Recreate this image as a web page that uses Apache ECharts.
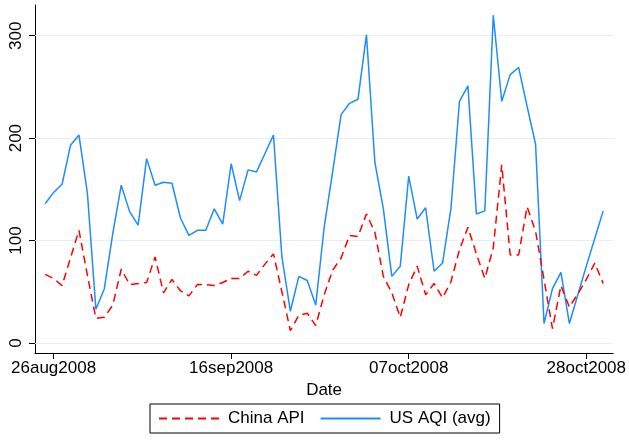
<!DOCTYPE html>
<html>
<head>
<meta charset="utf-8">
<script src="https://cdn.jsdelivr.net/npm/echarts@6/dist/echarts.min.js"></script>
<style>
  html, body { margin: 0; padding: 0; background: #ffffff; }
  #chart { width: 629px; height: 440px; }
</style>
</head>
<body>
<div id="chart"></div>
<script>
// Daily readings, 25 Aug 2008 through 30 Oct 2008
const firstDay = '2008-08-25';
const chinaAPI = [
  67, 63, 56, 83, 110, 66, 24, 25, 37, 72, 57, 58, 59, 84, 49, 62, 51, 46, 57, 57,
  56, 59, 63, 63, 70, 66, 77, 87, 50, 12, 27, 29, 17, 47, 71, 83, 105, 104, 126, 108,
  65, 49, 25, 57, 75, 47, 58, 44, 60, 91, 113, 87, 63, 93, 174, 86, 86, 133, 109, 62,
  14, 56, 35, 48, 62, 78, 58
];
const usAQI = [
  136, 147, 155, 193, 203, 146, 33, 53, 107, 154, 128, 115, 180, 154, 157, 156, 122, 105, 110, 110,
  131, 116, 175, 139, 169, 167, 185, 203, 84, 31, 65, 61, 37, 113, 167, 223, 234, 238, 301, 176,
  131, 65, 75, 163, 121, 132, 70, 78, 132, 236, 251, 126, 129, 320, 236, 262, 269, 231, 194, 19,
  53, 69, 19, 47, 75, 102, 129
];
const xTickDates = ['2008-08-26', '2008-09-16', '2008-10-07', '2008-10-28'];
const yTicks = [0, 100, 200, 300];

// x is measured in days since the first reading
const DAY = 86400000;
const monthNames = ['jan','feb','mar','apr','may','jun','jul','aug','sep','oct','nov','dec'];
function utc(s) {
  const p = s.split('-').map(Number);
  return Date.UTC(p[0], p[1] - 1, p[2]);
}
const t0 = utc(firstDay);
function dayIndex(s) { return Math.round((utc(s) - t0) / DAY); }
function stataDate(idx) {
  const d = new Date(t0 + idx * DAY);
  const dd = String(d.getUTCDate()).padStart(2, '0');
  return dd + monthNames[d.getUTCMonth()] + d.getUTCFullYear();
}

const chinaData = chinaAPI.map((v, i) => [i, v]);
const usData = usAQI.map((v, i) => [i, v]);
const xTicks = xTickDates.map(dayIndex);

const font = 'Liberation Sans, Arial, sans-serif';
const fs = 17;
const chart = echarts.init(document.getElementById('chart'), null, { renderer: 'canvas' });

chart.setOption({
  animation: false,
  backgroundColor: '#ffffff',
  grid: { left: 35, right: 13, top: 5, bottom: 87, containLabel: false },
  xAxis: {
    type: 'value',
    min: xTicks[0] - 2.2,
    max: xTicks[0] + 66.18,
    name: 'Date',
    nameLocation: 'middle',
    nameGap: 25,
    nameTextStyle: { color: '#000', fontSize: fs, fontFamily: font },
    axisLine: { show: true, onZero: false, lineStyle: { color: '#000', width: 1 } },
    axisTick: { show: true, length: 6, lineStyle: { color: '#000' }, customValues: xTicks },
    axisLabel: {
      color: '#000', fontSize: fs, fontFamily: font, margin: 7,
      customValues: xTicks,
      formatter: (v) => stataDate(v)
    },
    splitLine: { show: false }
  },
  yAxis: {
    type: 'value',
    min: -9.8,
    max: 330,
    axisLine: { show: true, onZero: false, lineStyle: { color: '#000', width: 1 } },
    axisTick: { show: true, length: 6, lineStyle: { color: '#000' }, customValues: yTicks },
    axisLabel: {
      color: '#000', fontSize: fs, fontFamily: font, rotate: 90, margin: 10,
      customValues: yTicks
    },
    splitLine: { show: false }
  },
  legend: {
    left: 150,
    top: 404,
    orient: 'horizontal',
    borderColor: '#000',
    borderWidth: 1,
    borderRadius: 0,
    padding: [6, 9, 6, 8],
    itemGap: 15,
    itemWidth: 60,
    itemHeight: 14,
    itemStyle: { opacity: 0 },
    textStyle: { color: '#000', fontSize: fs, fontFamily: font, padding: [0, 0, 0, 4] },
    data: ['China API', 'US AQI (avg)']
  },
  series: [
    {
      name: 'China API',
      type: 'line',
      data: chinaData,
      symbol: 'none',
      color: '#ff0000',
      lineStyle: { color: '#ff0000', width: 1.5, type: [8, 5] },
      z: 3,
      markLine: {
        silent: true,
        symbol: ['none', 'none'],
        label: { show: false },
        lineStyle: { color: '#e8eff2', width: 1.2, type: 'solid' },
        data: yTicks.map(v => ({ yAxis: v })),
        z: 1
      }
    },
    {
      name: 'US AQI (avg)',
      type: 'line',
      data: usData,
      symbol: 'none',
      color: '#1e8cff',
      lineStyle: { color: '#1e8cff', width: 1.5, type: 'solid' },
      z: 2
    }
  ]
});
</script>
</body>
</html>
